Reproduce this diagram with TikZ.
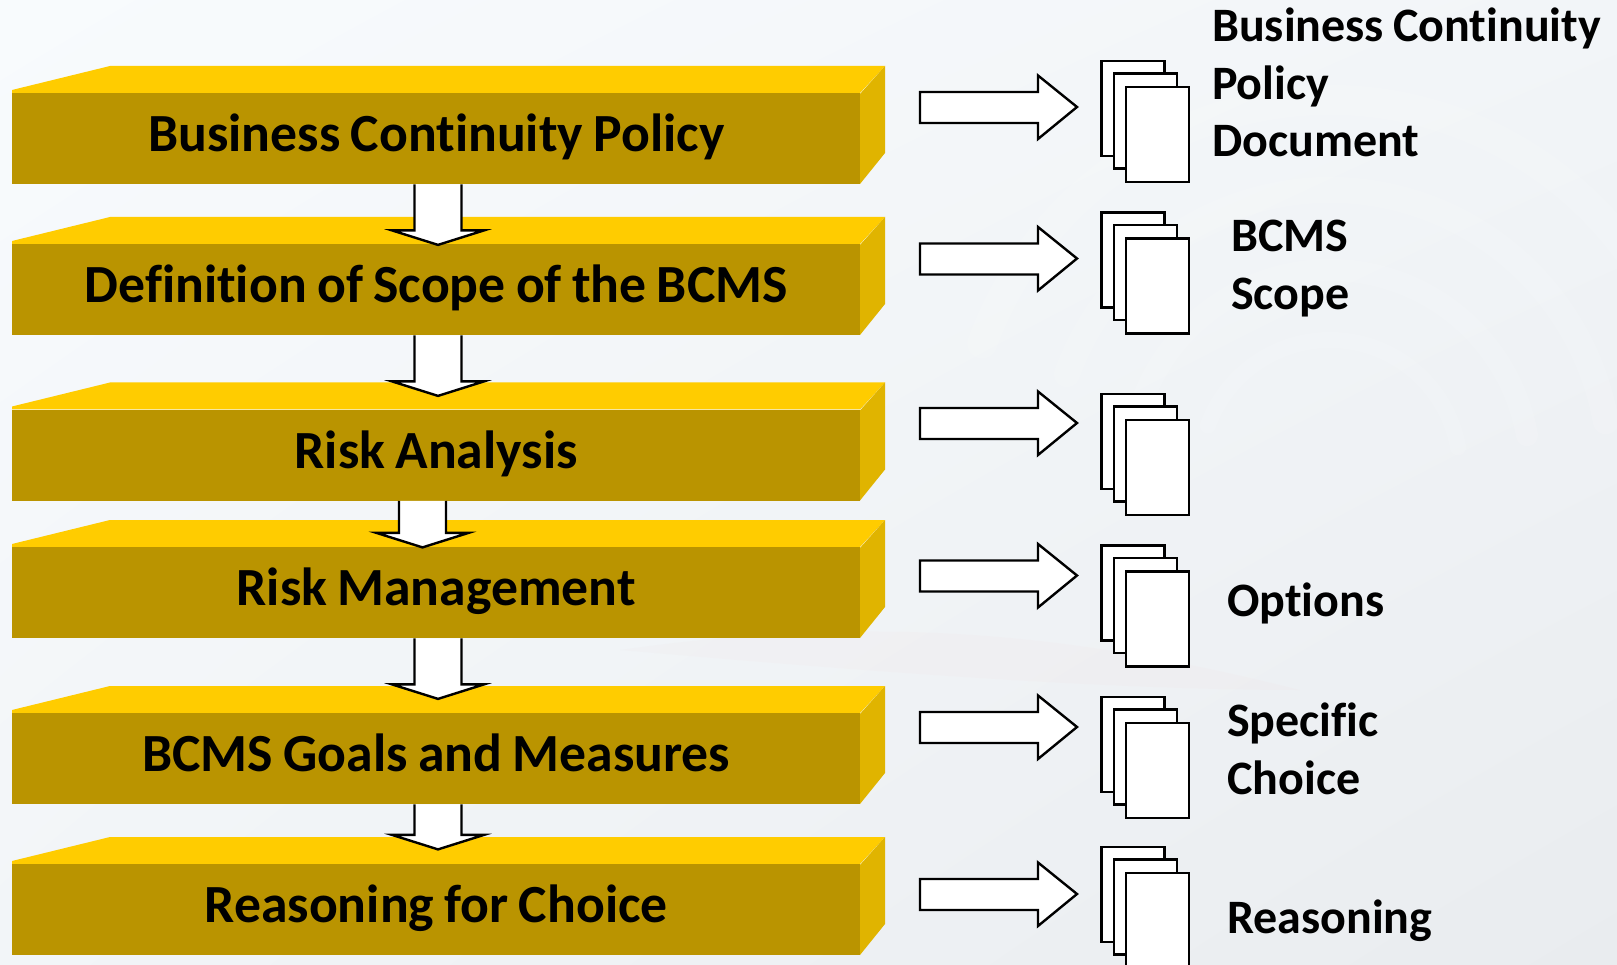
\documentclass[tikz,border=0pt]{standalone}
\usepackage{fontspec}
\setmainfont[Ligatures=NoCommon,WordSpace=0.85]{Carlito}
\usetikzlibrary{calc,shadings}
\definecolor{frontgold}{HTML}{BA9400}
\definecolor{topgold}{HTML}{FFCC00}
\definecolor{sidegold}{HTML}{E0B400}
\definecolor{bgA}{HTML}{F8FBFD}
\definecolor{bgB}{HTML}{F2F5F8}
\definecolor{bgC}{HTML}{E9ECEF}
\tikzset{
  front/.style={fill=frontgold,draw=none,minimum width=848pt,inner sep=0pt,text width=848pt,align=flush center,text height=58.5pt,text depth=32.5pt,font=\fontsize{53.7}{60}\selectfont\bfseries},
  topface/.style={fill=topgold,draw=none},
  sideface/.style={fill=sidegold,draw=none},
  blockarrow/.style={fill=white,draw=black,line width=2.4pt,miter limit=10},
  sheet/.style={fill=white,draw=black,line width=2.4pt,minimum width=63pt,minimum height=95pt,inner sep=0pt},
  lab/.style={anchor=north west,inner sep=0pt,align=left,font=\fontsize{48}{57.5}\selectfont\bfseries},
  swirl/.style={draw=white,line cap=round,opacity=.12}
}
\begin{document}
\begin{tikzpicture}[x=1pt,y=-1pt]
\useasboundingbox (0,0) rectangle (1617,965);
\clip (0,0) rectangle (1617,965);
\shade[upper left=bgA,upper right=bgB,lower left=bgB,lower right=bgC] (0,0) rectangle (1617,965);
\foreach \r/\w in {130/16,200/22,280/26,370/30}{
  \draw[swirl,line width=\w pt] (1330,470) ++(200:\r) arc[start angle=200,end angle=350,radius=\r];
}
\fill[pink!30!bgC,opacity=.12] (620,650) .. controls (900,610) and (1100,640) .. (1300,690) .. controls (1100,690) and (850,670) .. (620,650) -- cycle;
% boxes
\foreach \n/\t/\lbl in {1/93/Business Continuity Policy,2/244/Definition of Scope of the BCMS,3/409.5/Risk Analysis,4/547/Risk Management,5/713/BCMS Goals and Measures,6/864/Reasoning for Choice}{
  \path[topface] (12,\t-3) -- (110,\t-27) -- (885,\t-27) -- (860,\t) -- (12,\t) -- cycle;
  \path[sideface] (860,\t+1) -- (885,\t-27) -- (885,\t+60) -- (860,\t+91) -- cycle;
  \node[front,anchor=north west] (box\n) at (12,\t) {\lbl};
}
% down arrows
\foreach \a/\c/\L in {1/438/60.5,2/438/60.5,3/422.5/46.5,4/438/60.5,5/438/45}{
  \coordinate (tail\a) at (\c,0|-box\a.south);
  \coordinate (tip\a) at ($(tail\a)+(0,\L)$);
  \draw[blockarrow] ($(tail\a)+(-23.5,0)$) -- ($(tip\a)+(-23.5,-14.5)$) -- ($(tip\a)+(-46,-14.5)$) -- (tip\a) -- ($(tip\a)+(46,-14.5)$) -- ($(tip\a)+(23.5,-14.5)$) -- ($(tail\a)+(23.5,0)$);
}
% documents
\foreach \i/\y in {1/0,2/151.5,3/333,4/484.5,5/636,6/786}{
  \node[sheet] (sa\i) at (1133,108.5+\y) {};
  \node[sheet] (sb\i) at (1145.5,121+\y) {};
  \node[sheet] (sc\i) at (1157.5,134.5+\y) {};
}
% right arrows
\foreach \i/\c in {1/107,2/258.5,3/423,4/575.5,5/727,6/894}{
  \coordinate (ra\i) at (1077,\c);
  \draw[blockarrow] (ra\i) -- ++(-39,-31.5) -- ++(0,16.5) -- ++(-118,0) -- ++(0,31) -- ++(118,0) -- ++(0,16) -- cycle;
}
\node[lab] (l1) at (1212,8) {Business Continuity\\Policy\\Document};
\node[lab] (l2) at (1231,220) {BCMS\\Scope};
\node[lab] (l4) at (1227,583) {Options};
\node[lab] (l5) at (1227,703) {Specific\\Choice};
\node[lab] (l6) at (1227,900) {Reasoning};
\end{tikzpicture}
\end{document}
